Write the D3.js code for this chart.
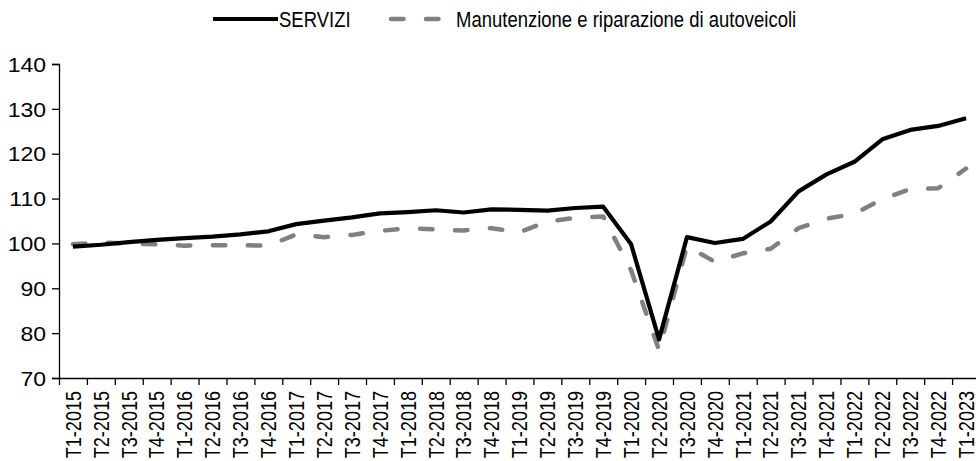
<!DOCTYPE html>
<html>
<head>
<meta charset="utf-8">
<script src="https://cdn.jsdelivr.net/npm/d3@7"></script>
<style>
  html, body { margin: 0; padding: 0; background: #fff; overflow: hidden; }
  svg { display: block; }
  text { font-family: "Liberation Sans", Arial, sans-serif; fill: #000; }
</style>
</head>
<body>
<svg id="chart" width="976" height="461"></svg>
<script>
const categories = ["T1-2015","T2-2015","T3-2015","T4-2015","T1-2016","T2-2016","T3-2016","T4-2016",
  "T1-2017","T2-2017","T3-2017","T4-2017","T1-2018","T2-2018","T3-2018","T4-2018",
  "T1-2019","T2-2019","T3-2019","T4-2019","T1-2020","T2-2020","T3-2020","T4-2020",
  "T1-2021","T2-2021","T3-2021","T4-2021","T1-2022","T2-2022","T3-2022","T4-2022","T1-2023"];
const servizi = [99.3,99.7,100.3,100.8,101.2,101.5,102.0,102.7,
  104.3,105.1,105.8,106.7,107.0,107.4,106.9,107.6,
  107.5,107.3,107.9,108.2,99.8,78.6,101.4,100.1,
  101.0,104.9,111.6,115.4,118.2,123.2,125.3,126.2,127.9];
const manutenzione = [99.8,100.2,100.0,99.8,99.5,99.6,99.6,99.5,
  102.0,101.4,101.9,102.8,103.4,103.1,102.9,103.4,
  102.5,104.9,105.7,106.0,94.0,76.2,99.4,95.9,
  97.8,98.8,103.4,105.5,106.6,109.9,112.1,112.3,116.7];
const yTicks = [70,80,90,100,110,120,130,140];
const seriesNames = ["SERVIZI", "Manutenzione e riparazione di autoveicoli"];

const svg = d3.select("#chart");
const plotLeft = 59, plotRight = 980, plotTop = 64, plotBottom = 378;
const yFont = 20, yStretch = 1.15;
const xFont = 21.5, xStretch = 0.84;
const legFont = 21.5, legStretch = 0.86;

const x = d3.scaleBand().domain(categories).range([plotLeft, plotRight]).padding(0);
const xIdx = d3.scaleLinear().domain([0, categories.length]).range([plotLeft, plotRight]);
const y = d3.scaleLinear().domain([70, 140]).range([plotBottom, plotTop]);

// Y axis
const yAxis = svg.append("g").attr("transform", `translate(${plotLeft},0)`)
  .call(d3.axisLeft(y).tickValues(yTicks).tickSize(7).tickPadding(6).tickFormat(d3.format("d")));
yAxis.selectAll("text")
  .style("font-size", yFont + "px")
  .attr("x", -13 / yStretch)
  .attr("dy", "0.36em")
  .attr("transform", `scale(${yStretch},1)`);
yAxis.select(".domain").attr("stroke", "#000").attr("stroke-width", 1.3);
yAxis.selectAll(".tick line").attr("stroke", "#000").attr("stroke-width", 1.3);

// X axis tick marks at band edges
const xTickAxis = svg.append("g").attr("transform", `translate(0,${plotBottom})`)
  .call(d3.axisBottom(xIdx).tickValues(d3.range(categories.length + 1)).tickSize(7).tickSizeOuter(0).tickFormat(""));
xTickAxis.select(".domain").attr("stroke", "#000").attr("stroke-width", 1.3);
xTickAxis.selectAll(".tick line").attr("stroke", "#000").attr("stroke-width", 1.3);

// X labels
const xAxis = svg.append("g").attr("transform", `translate(0,${plotBottom})`)
  .call(d3.axisBottom(x).tickSize(0).tickPadding(0));
xAxis.select(".domain").remove();
xAxis.selectAll("text")
  .style("font-size", xFont + "px")
  .attr("text-anchor", "end")
  .attr("transform", `rotate(-90) scale(${xStretch},1)`)
  .attr("x", -13 / xStretch)
  .attr("y", 0)
  .attr("dy", "0.36em");

// Lines
const line = d3.line().x((d, i) => x(categories[i]) + x.bandwidth() / 2).y(d => y(d));

svg.append("path").datum(manutenzione)
  .attr("d", line)
  .attr("fill", "none")
  .attr("stroke", "#808080")
  .attr("stroke-width", 4.5)
  .attr("stroke-linecap", "round")
  .attr("stroke-linejoin", "round")
  .attr("stroke-dasharray", "12.5,22.5");

svg.append("path").datum(servizi)
  .attr("d", line)
  .attr("fill", "none")
  .attr("stroke", "#000")
  .attr("stroke-width", 4.2)
  .attr("stroke-linejoin", "round");

// Legend
const lg = svg.append("g");
lg.append("line").attr("x1", 213).attr("x2", 278).attr("y1", 19).attr("y2", 19)
  .attr("stroke", "#000").attr("stroke-width", 4.2);
lg.append("text").attr("transform", `translate(279,27) scale(${legStretch},1)`)
  .style("font-size", legFont + "px").text(seriesNames[0]);
lg.append("line").attr("x1", 391).attr("x2", 447).attr("y1", 19).attr("y2", 19)
  .attr("stroke", "#808080").attr("stroke-width", 4.5)
  .attr("stroke-linecap", "round").attr("stroke-dasharray", "12.5,22.5");
lg.append("text").attr("transform", `translate(456,27) scale(${legStretch},1)`)
  .style("font-size", legFont + "px").text(seriesNames[1]);
</script>
</body>
</html>
